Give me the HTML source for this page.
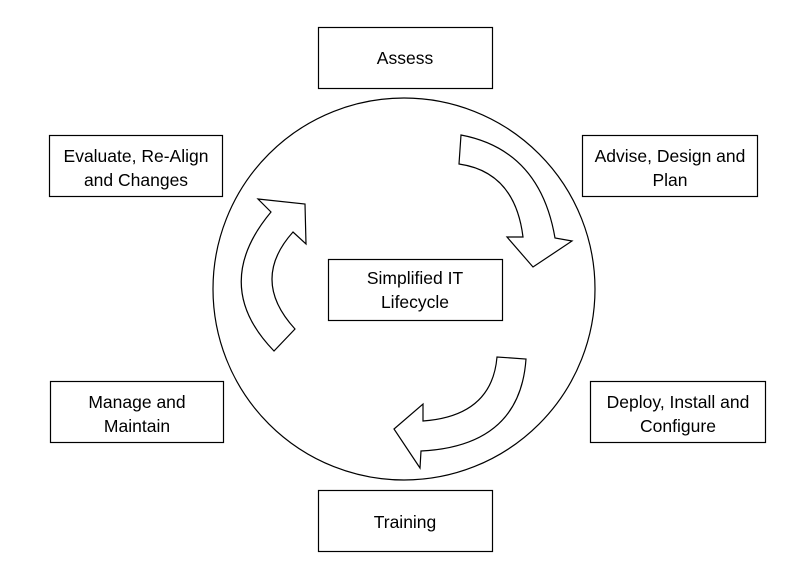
<!DOCTYPE html>
<html><head><style>
body{margin:0;background:#fff;}
svg text{font-family:"Liberation Sans",sans-serif;font-size:17.5px;fill:#000;}
</style></head><body>
<svg width="800" height="573" xmlns="http://www.w3.org/2000/svg">
<g fill="#fff" stroke="#000" stroke-width="1.2">
<circle cx="404" cy="289" r="191" fill="none"/>
<rect x="318.5" y="27.5" width="174" height="61"/>
<rect x="49.5" y="135.5" width="173" height="61"/>
<rect x="582.5" y="135.5" width="175" height="61"/>
<rect x="328.5" y="259.5" width="174" height="61"/>
<rect x="50.5" y="381.5" width="173" height="61"/>
<rect x="590.5" y="381.5" width="175" height="61"/>
<rect x="318.5" y="490.5" width="174" height="61"/>
<path d="M461,135 Q540,150 555,238 L572,241 L533,267 L507,237 L523,237 Q515,172 459,164 Z"/>
<path d="M497,357 Q492,416 423,421 L423,404 L394,429 L420,468 L421,451 Q520,446 526,359 Z"/>
<path d="M258,199 L305,204 L306,244 L293,232 Q250,280 295,329 L274,351 Q210,285 271,212 Z"/>
</g>
<g text-anchor="middle">
<text x="405" y="64">Assess</text>
<text x="136" y="162">Evaluate, Re-Align</text>
<text x="136" y="186">and Changes</text>
<text x="670" y="162">Advise, Design and</text>
<text x="670" y="186">Plan</text>
<text x="415" y="284">Simplified IT</text>
<text x="415" y="308">Lifecycle</text>
<text x="137" y="408">Manage and</text>
<text x="137" y="432">Maintain</text>
<text x="678" y="408">Deploy, Install and</text>
<text x="678" y="432">Configure</text>
<text x="405" y="528">Training</text>
</g>
</svg>
</body></html>
